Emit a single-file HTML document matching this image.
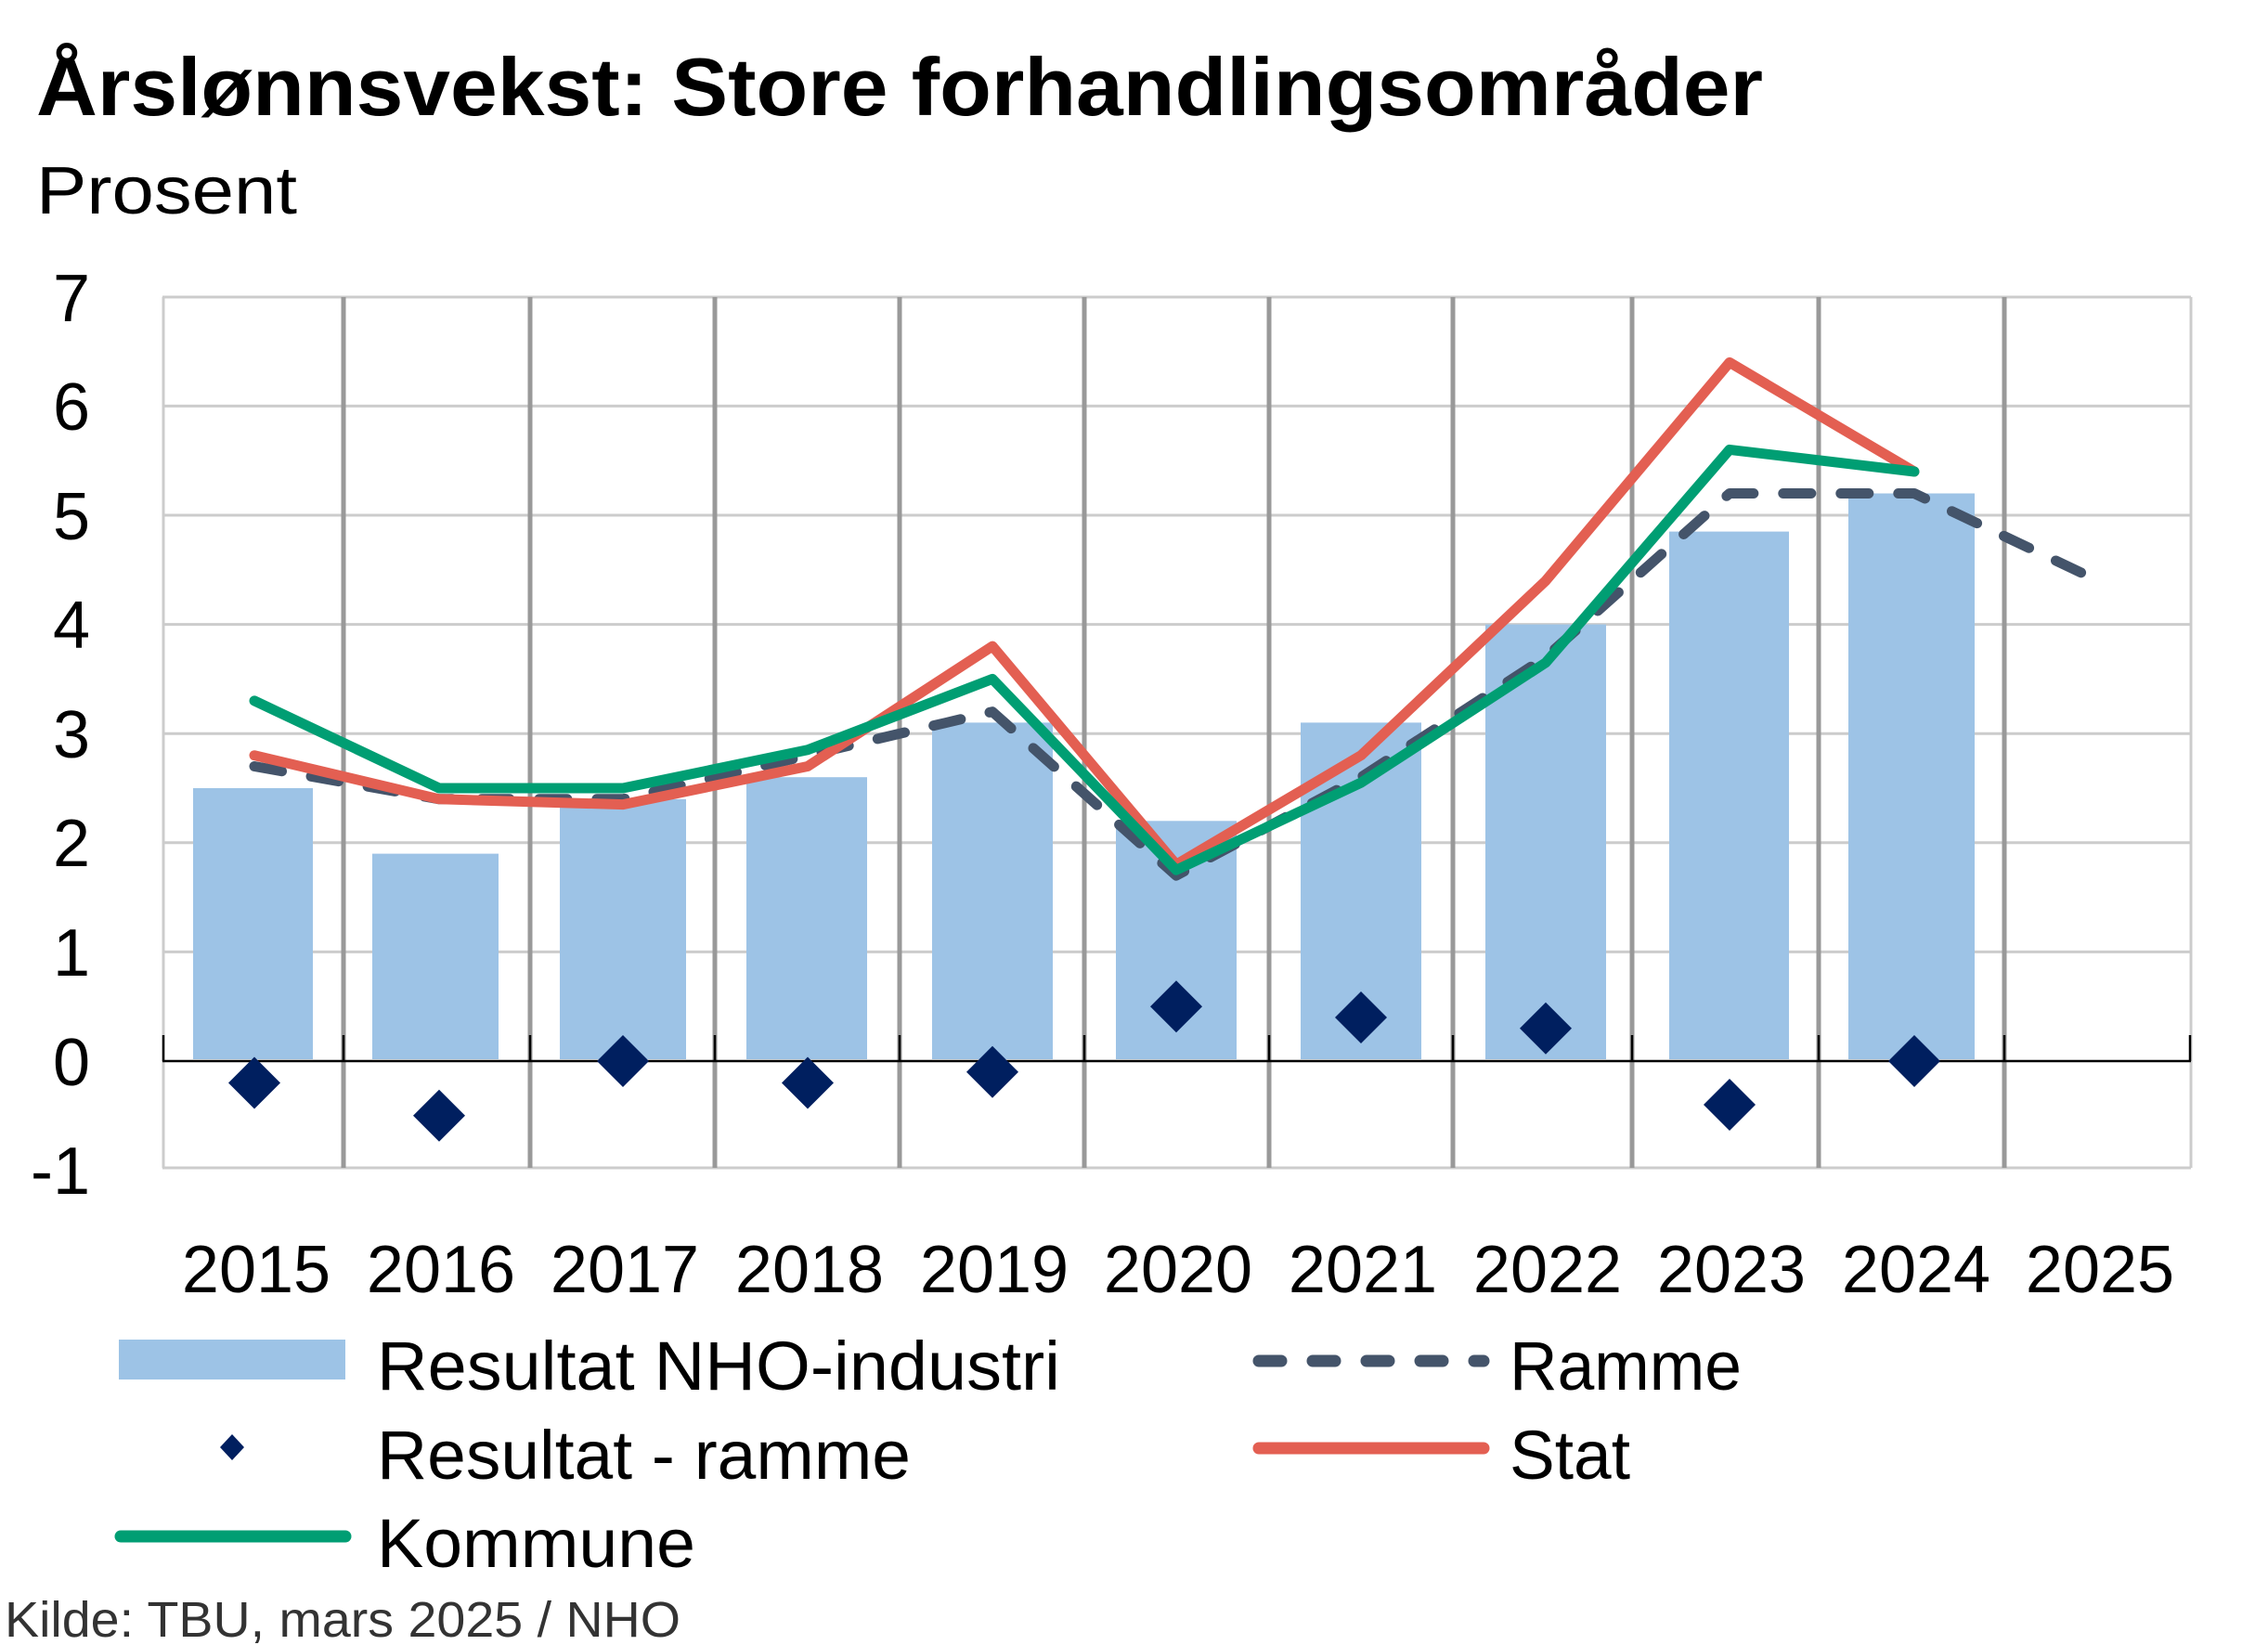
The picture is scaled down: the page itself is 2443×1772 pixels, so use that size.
<!DOCTYPE html>
<html><head><meta charset="utf-8"><style>html,body{margin:0;padding:0;background:#fff}svg{display:block}</style></head>
<body>
<svg width="2443" height="1772" viewBox="0 0 2443 1772" xmlns="http://www.w3.org/2000/svg" font-family="Liberation Sans, DejaVu Sans, sans-serif">
<text x="39" y="124" font-size="88" font-weight="bold" textLength="1860" lengthAdjust="spacingAndGlyphs">Årslønnsvekst: Store forhandlingsområder</text>
<text x="39" y="230" font-size="72" textLength="281" lengthAdjust="spacingAndGlyphs">Prosent</text>
<g stroke="#cccccc" stroke-width="3">
<line x1="175" y1="320" x2="2360" y2="320"/>
<line x1="175" y1="437.4" x2="2360" y2="437.4"/>
<line x1="175" y1="555" x2="2360" y2="555"/>
<line x1="175" y1="672.6" x2="2360" y2="672.6"/>
<line x1="175" y1="790.2" x2="2360" y2="790.2"/>
<line x1="175" y1="907.8" x2="2360" y2="907.8"/>
<line x1="175" y1="1025.4" x2="2360" y2="1025.4"/>
<line x1="175" y1="1258" x2="2360" y2="1258"/>
<line x1="176" y1="320" x2="176" y2="1258"/>
<line x1="2360" y1="320" x2="2360" y2="1258"/>
</g>
<g stroke="#999999" stroke-width="5">
<line x1="370" y1="320" x2="370" y2="1258"/>
<line x1="571" y1="320" x2="571" y2="1258"/>
<line x1="770" y1="320" x2="770" y2="1258"/>
<line x1="969" y1="320" x2="969" y2="1258"/>
<line x1="1168" y1="320" x2="1168" y2="1258"/>
<line x1="1367" y1="320" x2="1367" y2="1258"/>
<line x1="1565" y1="320" x2="1565" y2="1258"/>
<line x1="1758" y1="320" x2="1758" y2="1258"/>
<line x1="1959" y1="320" x2="1959" y2="1258"/>
<line x1="2159" y1="320" x2="2159" y2="1258"/>
</g>
<g fill="#9dc3e6">
<rect x="208" y="849" width="129" height="292"/>
<rect x="401" y="919.6" width="136" height="221.4"/>
<rect x="603" y="860.8" width="136" height="280.2"/>
<rect x="804" y="837.2" width="130" height="303.8"/>
<rect x="1004" y="778.4" width="130" height="362.6"/>
<rect x="1202" y="884.3" width="130" height="256.7"/>
<rect x="1401" y="778.4" width="130" height="362.6"/>
<rect x="1600" y="672.6" width="130" height="468.4"/>
<rect x="1798" y="572.6" width="129" height="568.4"/>
<rect x="1991" y="531.5" width="136" height="609.5"/>
</g>
<g stroke="#000" stroke-width="2.5">
<line x1="175" y1="1143" x2="2360" y2="1143"/>
<line x1="176" y1="1115" x2="176" y2="1143"/>
<line x1="370" y1="1115" x2="370" y2="1143"/>
<line x1="571" y1="1115" x2="571" y2="1143"/>
<line x1="770" y1="1115" x2="770" y2="1143"/>
<line x1="969" y1="1115" x2="969" y2="1143"/>
<line x1="1168" y1="1115" x2="1168" y2="1143"/>
<line x1="1367" y1="1115" x2="1367" y2="1143"/>
<line x1="1565" y1="1115" x2="1565" y2="1143"/>
<line x1="1758" y1="1115" x2="1758" y2="1143"/>
<line x1="1959" y1="1115" x2="1959" y2="1143"/>
<line x1="2159" y1="1115" x2="2159" y2="1143"/>
<line x1="2359" y1="1115" x2="2359" y2="1143"/>
</g>
<g fill="none" stroke-linejoin="round" stroke-linecap="round" stroke-width="11">
<polyline stroke="#44546a" stroke-dasharray="30 32" points="274,825.5 473,860.8 671,860.8 870,813.7 1069,766.7 1267,943.1 1466,837.2 1665,707.9 1863,531.5 2062,531.5 2260,625.6"/>
<polyline stroke="#e35f52" points="274,813.7 473,860.8 671,866.6 870,825.5 1069,696.1 1267,931.3 1466,813.7 1665,625.6 1863,390.4 2062,508"/>
<polyline stroke="#009e73" points="274,754.9 473,849 671,849 870,807.8 1069,731.4 1267,937.2 1466,843.1 1665,713.8 1863,484.4 2062,508"/>
</g>
<g fill="#001f5f">
<polygon points="274,1138.5 302,1166.5 274,1194.5 246,1166.5"/>
<polygon points="473,1173.8 501,1201.8 473,1229.8 445,1201.8"/>
<polygon points="671,1115 699,1143 671,1171 643,1143"/>
<polygon points="870,1138.5 898,1166.5 870,1194.5 842,1166.5"/>
<polygon points="1069,1126.8 1097,1154.8 1069,1182.8 1041,1154.8"/>
<polygon points="1267,1056.2 1295,1084.2 1267,1112.2 1239,1084.2"/>
<polygon points="1466,1068 1494,1096 1466,1124 1438,1096"/>
<polygon points="1665,1079.7 1693,1107.7 1665,1135.7 1637,1107.7"/>
<polygon points="1863,1162 1891,1190 1863,1218 1835,1190"/>
<polygon points="2062,1115 2090,1143 2062,1171 2034,1143"/>
</g>
<g font-size="72" text-anchor="end">
<text x="97" y="346">7</text>
<text x="97" y="463">6</text>
<text x="97" y="581">5</text>
<text x="97" y="698">4</text>
<text x="97" y="816">3</text>
<text x="97" y="933">2</text>
<text x="97" y="1051">1</text>
<text x="97" y="1169">0</text>
<text x="97" y="1286">-1</text>
</g>
<g font-size="72" text-anchor="middle">
<text x="276" y="1392">2015</text>
<text x="475" y="1392">2016</text>
<text x="673" y="1392">2017</text>
<text x="872" y="1392">2018</text>
<text x="1071" y="1392">2019</text>
<text x="1269" y="1392">2020</text>
<text x="1468" y="1392">2021</text>
<text x="1667" y="1392">2022</text>
<text x="1865" y="1392">2023</text>
<text x="2064" y="1392">2024</text>
<text x="2262" y="1392">2025</text>
</g>
<rect x="128" y="1443" width="244" height="43" fill="#9dc3e6"/>
<line x1="1356" y1="1466" x2="1598" y2="1466" stroke="#44546a" stroke-width="13" stroke-linecap="round" stroke-dasharray="24 34"/>
<polygon points="250,1545 263,1559 250,1573 237,1559" fill="#001f5f"/>
<line x1="1356" y1="1560" x2="1598" y2="1560" stroke="#e35f52" stroke-width="13" stroke-linecap="round"/>
<line x1="130" y1="1655" x2="372" y2="1655" stroke="#009e73" stroke-width="13" stroke-linecap="round"/>
<g font-size="74">
<text x="406" y="1497" textLength="736" lengthAdjust="spacingAndGlyphs">Resultat NHO-industri</text>
<text x="406" y="1593" textLength="575" lengthAdjust="spacingAndGlyphs">Resultat - ramme</text>
<text x="406" y="1688" textLength="343" lengthAdjust="spacingAndGlyphs">Kommune</text>
<text x="1626" y="1497" textLength="250" lengthAdjust="spacingAndGlyphs">Ramme</text>
<text x="1626" y="1593" textLength="130" lengthAdjust="spacingAndGlyphs">Stat</text>
</g>
<text x="5" y="1763" font-size="54" fill="#333" textLength="728" lengthAdjust="spacingAndGlyphs">Kilde: TBU, mars 2025 / NHO</text>
</svg>
</body></html>
